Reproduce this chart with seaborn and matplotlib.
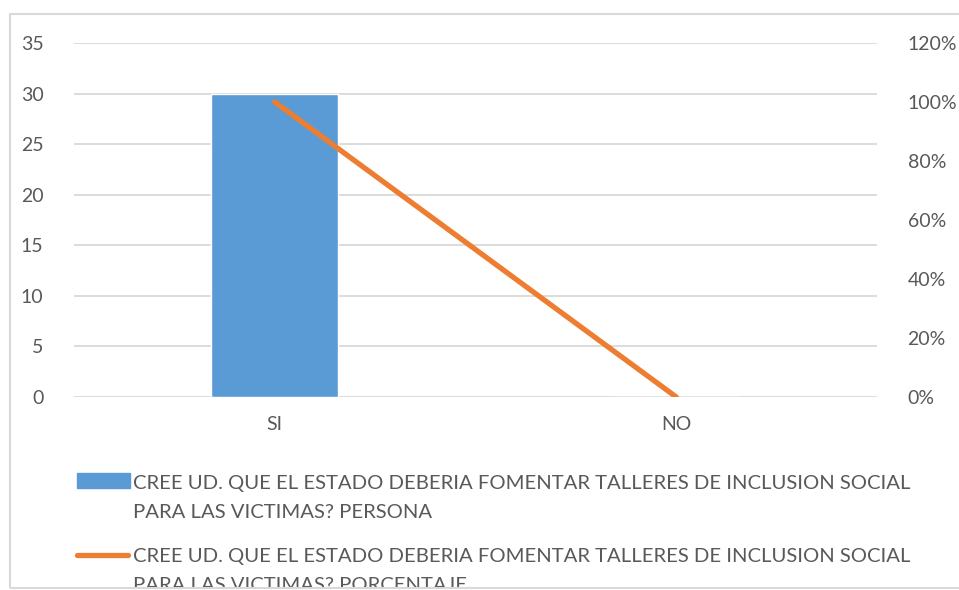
import matplotlib
matplotlib.use("Agg")
import matplotlib.pyplot as plt
import seaborn as sns
import pandas as pd
from matplotlib.patches import Rectangle
from matplotlib.lines import Line2D
from matplotlib.ticker import FuncFormatter

categories = ["SI", "NO"]
personas = [30, 0]
porcentaje = [1.00, 0.00]
label_persona = "CREE UD. QUE EL ESTADO DEBERIA FOMENTAR TALLERES DE INCLUSION SOCIAL\nPARA LAS VICTIMAS? PERSONA"
label_pct = "CREE UD. QUE EL ESTADO DEBERIA FOMENTAR TALLERES DE INCLUSION SOCIAL\nPARA LAS VICTIMAS? PORCENTAJE"

blue = "#5B9BD5"
orange = "#ED7D31"
grid_c = "#D9D9D9"
text_c = "#595959"

sns.set_style("white")
plt.rcParams["font.family"] = ["Lato", "DejaVu Sans"]

df = pd.DataFrame({"cat": categories, "n": personas, "pct": porcentaje})

fig = plt.figure(figsize=(9.59, 5.90), dpi=100)
ax = fig.add_axes([74 / 959, 1 - 397 / 590, (877 - 74) / 959, 354 / 590])
sns.barplot(data=df, x="cat", y="n", color=blue, width=0.316, saturation=1, ax=ax)
ax.set_ylim(0, 35)
ax.set_yticks(range(0, 36, 5))
ax.set_xlim(-0.5, 1.5)
ax.yaxis.grid(True, color=grid_c, lw=1.3)
ax.set_axisbelow(True)
for s in ax.spines.values():
    s.set_visible(False)
ax.set_xlabel("")
ax.set_ylabel("")
ax.tick_params(axis="both", length=0, labelsize=14, colors=text_c, pad=22)
ax.tick_params(axis="x", pad=14)

ax2 = ax.twinx()
sns.lineplot(data=df, x="cat", y="pct", color=orange, lw=3.8, ax=ax2)
ax2.lines[0].set_solid_capstyle("round")
ax2.set_ylim(0, 1.2)
ax2.set_yticks([0, 0.2, 0.4, 0.6, 0.8, 1.0, 1.2])
ax2.yaxis.set_major_formatter(FuncFormatter(lambda v, p: f"{v * 100:.0f}%"))
ax2.set_ylabel("")
for s in ax2.spines.values():
    s.set_visible(False)
ax2.tick_params(axis="y", length=0, labelsize=14, colors=text_c, pad=22)
ax2.set_xlim(-0.5, 1.5)

# outer frame of the chart area
frame = Rectangle((10 / 959, 1 - 588 / 590), 960 / 959, 574 / 590,
                  transform=fig.transFigure, fill=False, ec=grid_c, lw=1.5, zorder=5)
fig.add_artist(frame)

# legend entries (key aligned with the first text line), clipped by the frame
fig.add_artist(Rectangle((77 / 959, 1 - 488 / 590), 53 / 959, 15 / 590,
                         transform=fig.transFigure, color=blue))
fig.add_artist(Line2D([77 / 959, 128 / 959], [1 - 555 / 590, 1 - 555 / 590],
                      transform=fig.transFigure, color=orange, lw=3.8, solid_capstyle="round"))
for label, y0 in [(label_persona, 489), (label_pct, 562)]:
    for i, line in enumerate(label.split("\n")):
        t = fig.text(133 / 959, 1 - (y0 + i * 29) / 590, line, fontsize=14.6,
                     color=text_c, va="baseline", ha="left")
        t.set_clip_path(frame)

fig.savefig("out.png", dpi=100)
